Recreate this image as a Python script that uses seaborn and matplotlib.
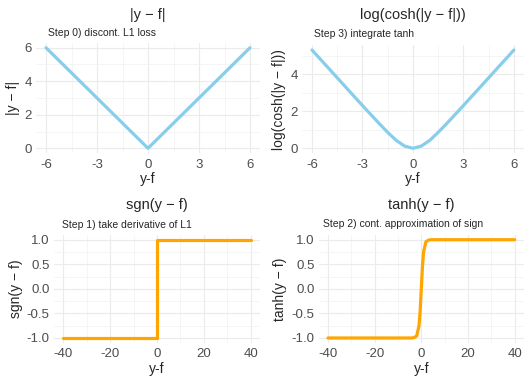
import matplotlib
matplotlib.use("Agg")
import matplotlib.pyplot as plt
import seaborn as sns

# values
l1_x = [-6, 0, 6]
l1_y = [6, 0, 6]

logcosh_x = [-6, -5, -4, -3, -2, -1.5, -1, -0.5, 0, 0.5, 1, 1.5, 2, 3, 4, 5, 6]
logcosh_y = [5.31, 4.31, 3.31, 2.31, 1.33, 0.86, 0.43, 0.12, 0.0,
             0.12, 0.43, 0.86, 1.33, 2.31, 3.31, 4.31, 5.31]

sgn_x = [-40, 0, 0, 40]
sgn_y = [-1, -1, 1, 1]

tanh_x = [-40, -4, -3, -2, -1, -0.5, 0, 0.5, 1, 2, 3, 4, 40]
tanh_y = [-1.0, -1.0, -0.99, -0.96, -0.76, -0.46, 0.0, 0.46, 0.76, 0.96, 0.99, 1.0, 1.0]

small_ticks = [-6, -3, 0, 3, 6]
wide_ticks = [-40, -20, 0, 20, 40]
sign_ticks = [-1.0, -0.5, 0.0, 0.5, 1.0]

titles = ["|y \u2212 f|", "log(cosh(|y \u2212 f|))", "sgn(y \u2212 f)", "tanh(y \u2212 f)"]
subtitles = ["Step 0) discont. L1 loss", "Step 3) integrate tanh",
             "Step 1) take derivative of L1", "Step 2) cont. approximation of sign"]

sns.set_theme(style="white")
plt.rcParams["font.family"] = ["Liberation Sans", "DejaVu Sans"]
plt.rcParams["axes.unicode_minus"] = False

W, H = 524, 377
fig = plt.figure(figsize=(W / 100, H / 100), dpi=100)


def box(left, top, right, bottom):
    return [left / W, 1 - bottom / H, (right - left) / W, (bottom - top) / H]


def px(x, y):
    return x / W, 1 - y / H


panels = [
    dict(pos=box(35.8, 42.7, 260.2, 153.3), x=l1_x, y=l1_y, color="#87CEEB",
         xt=small_ticks, yt=[0, 2, 4, 6], xmin=[-4.5, -1.5, 1.5, 4.5], ymin=[1, 3, 5],
         yfmt="{:g}", title_xy=(148, 15), sub_xy=(47.7, 33)),
    dict(pos=box(301.9, 45.1, 524, 153.2), x=logcosh_x, y=logcosh_y, color="#87CEEB",
         xt=small_ticks, yt=[0, 2, 4], xmin=[-4.5, -1.5, 1.5, 4.5], ymin=[1, 3, 5],
         yfmt="{:g}", title_xy=(413, 15), sub_xy=(314, 34)),
    dict(pos=box(53.9, 234.8, 260, 342.9), x=sgn_x, y=sgn_y, color="#FFA500",
         xt=wide_ticks, yt=sign_ticks, xmin=[-30, -10, 10, 30], ymin=[-0.75, -0.25, 0.25, 0.75],
         yfmt="{:.1f}", title_xy=(157, 205), sub_xy=(62, 225)),
    dict(pos=box(318.6, 234.8, 524, 342.9), x=tanh_x, y=tanh_y, color="#FFA500",
         xt=wide_ticks, yt=sign_ticks, xmin=[-30, -10, 10, 30], ymin=[-0.75, -0.25, 0.25, 0.75],
         yfmt="{:.1f}", title_xy=(421, 205), sub_xy=(323, 224)),
]

for p, title, sub in zip(panels, titles, subtitles):
    ax = fig.add_axes(p["pos"])
    sns.lineplot(x=p["x"], y=p["y"], ax=ax, color=p["color"], linewidth=2.3,
                 estimator=None, sort=False)
    ax.margins(0.05)
    for s in ax.spines.values():
        s.set_visible(False)
    ax.set_xticks(p["xt"])
    ax.set_xticklabels([f"{v:g}" for v in p["xt"]])
    ax.set_yticks(p["yt"])
    ax.set_yticklabels([p["yfmt"].format(v) for v in p["yt"]])
    ax.set_xticks(p["xmin"], minor=True)
    ax.set_yticks(p["ymin"], minor=True)
    ax.grid(True, which="major", color="#EBEBEB", linewidth=0.8)
    ax.grid(True, which="minor", color="#F2F2F2", linewidth=0.5)
    ax.set_axisbelow(True)
    ax.tick_params(axis="x", which="both", length=0, pad=4, labelsize=9.5, colors="#4D4D4D")
    ax.tick_params(axis="y", which="both", length=0, pad=3, labelsize=9.5, colors="#4D4D4D")
    ax.set_xlabel("y-f", fontsize=10, labelpad=1)
    ax.set_ylabel(title, fontsize=10, labelpad=3)
    fig.text(*px(*p["title_xy"]), title, ha="center", va="center", fontsize=10.5)
    fig.text(*px(*p["sub_xy"]), sub, ha="left", va="center", fontsize=7.5)

fig.savefig("out.png", dpi=100)
